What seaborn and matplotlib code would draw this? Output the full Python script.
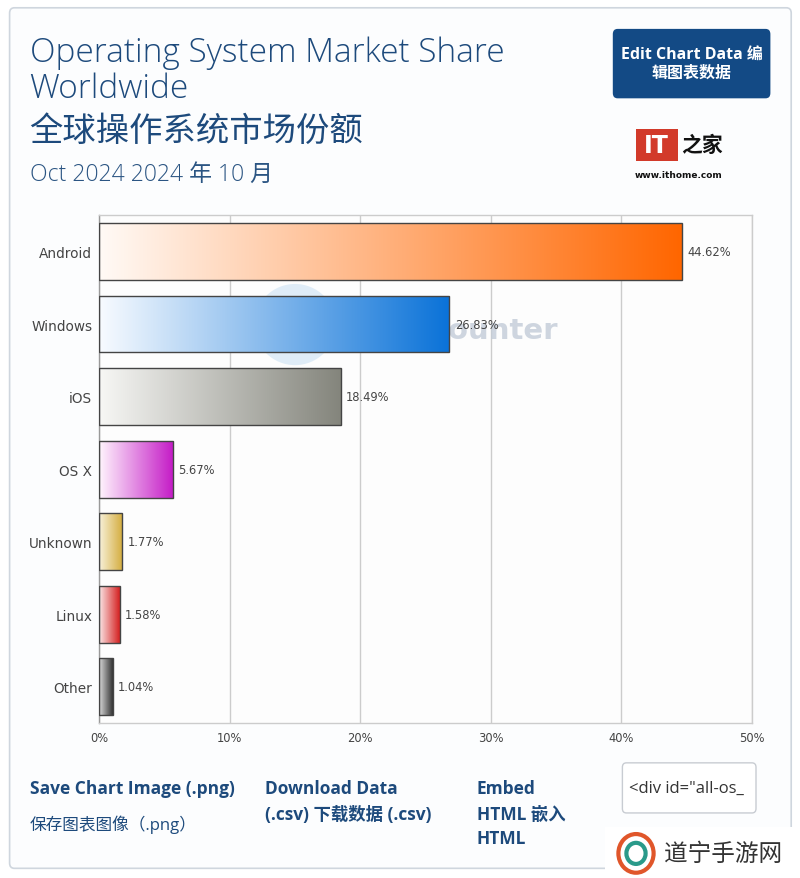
import numpy as np
import pandas as pd
import matplotlib
matplotlib.use("Agg")
import matplotlib.pyplot as plt
import seaborn as sns
from matplotlib.colors import LinearSegmentedColormap
from matplotlib.patches import FancyBboxPatch, Rectangle, Circle, Ellipse

# -----------------------------
# data
# -----------------------------
os_names = ["Android", "Windows", "iOS", "OS X", "Unknown", "Linux", "Other"]
shares = [44.62, 26.83, 18.49, 5.67, 1.77, 1.58, 1.04]
grad_start = ["#fffaf6", "#f8fbff", "#f7f7f5", "#fff5fd", "#f8f2dc", "#fbe8e8", "#dddddd"]
grad_end = ["#ff6600", "#0a72d8", "#84857c", "#c41ac6", "#d4ac3c", "#d42020", "#333333"]
x_ticks = [0, 10, 20, 30, 40, 50]
x_tick_labels = ["0%", "10%", "20%", "30%", "40%", "50%"]

TITLE_EN = "Operating System Market Share\nWorldwide"
TITLE_CN = "全球操作系统市场份额"
SUBTITLE = "Oct 2024 2024 年 10 月"
NAVY = "#1d4a7c"

sns.set_theme(style="white")
plt.rcParams["font.family"] = ["DejaVu Sans", "Noto Sans CJK SC"]
plt.rcParams["axes.unicode_minus"] = False

df = pd.DataFrame({"os": os_names, "share": shares})

fig = plt.figure(figsize=(8, 8.79), dpi=100)
fig.patch.set_facecolor("white")

# outer card (behind everything)
fig.patches.append(FancyBboxPatch((0.012, 0.011), 0.977, 0.979,
                                  boxstyle="round,pad=0,rounding_size=0.006",
                                  transform=fig.transFigure, facecolor="#fcfdfe",
                                  edgecolor="#cfd6de", linewidth=1.2, zorder=-5))

ax = fig.add_axes([0.124, 0.1763, 0.816, 0.5775])
ax.set_zorder(1)
ax.set_facecolor("#fdfdfd")

sns.barplot(data=df, x="share", y="os", orient="h", width=0.78,
            color="white", edgecolor="#444444", linewidth=1.0, ax=ax, zorder=3)

# gradient fill clipped to each bar
for patch, c0, c1 in zip(ax.patches, grad_start, grad_end):
    x0, y0 = patch.get_x(), patch.get_y()
    w, h = patch.get_width(), patch.get_height()
    cmap = LinearSegmentedColormap.from_list("g", [c0, c1])
    grad = np.linspace(0, 1, 256).reshape(1, -1)
    im = ax.imshow(grad, cmap=cmap, aspect="auto", extent=[x0, x0 + w, y0 + h, y0],
                   zorder=2, interpolation="bicubic")
    im.set_clip_path(patch)
    patch.set_facecolor("none")

# value labels
for i, v in enumerate(shares):
    ax.text(v + 0.4, i, f"{v:.2f}%", va="center", ha="left", fontsize=8.3,
            color="#444444", zorder=4)

# faint statcounter watermark behind the bars
ax.add_patch(Ellipse((0.30, 0.785), 0.125, 0.16, transform=ax.transAxes,
                     facecolor="#d3e6f5", edgecolor="none", alpha=0.7, zorder=1))
ax.text(0.556, 0.775, "statcounter", transform=ax.transAxes, ha="center", va="center",
        fontsize=21, fontweight="bold", color="#c3ccd8", alpha=0.8, zorder=1)

ax.set_xlim(0, 50)
ax.set_ylim(6.5, -0.5)
ax.set_xticks(x_ticks)
ax.set_xticklabels(x_tick_labels, fontsize=8.3, color="#444444")
ax.tick_params(axis="y", labelsize=9.8, labelcolor="#444444", length=0, pad=5)
ax.tick_params(axis="x", length=0, pad=6)
ax.set_xlabel("")
ax.set_ylabel("")
ax.grid(axis="x", color="#cccccc", linewidth=1.0, zorder=0)
ax.set_axisbelow(True)
for side in ["top", "right", "bottom"]:
    ax.spines[side].set_color("#cccccc")
ax.spines["left"].set_color("#999999")
for s in ax.spines.values():
    s.set_linewidth(1.0)

# titles
fig.text(0.037, 0.958, TITLE_EN, ha="left", va="top", fontsize=24, color=NAVY,
         family=["Open Sans", "DejaVu Sans"], fontweight="light", linespacing=1.1)
fig.text(0.037, 0.851, TITLE_CN, ha="left", va="center", fontsize=24, color=NAVY,
         family=["Noto Sans CJK SC"], fontweight="medium")
fig.text(0.037, 0.801, SUBTITLE, ha="left", va="center", fontsize=16.5, color="#2b5583",
         family=["Open Sans", "Noto Sans CJK SC"], fontweight="light")

# edit button
fig.patches.append(FancyBboxPatch((0.766, 0.887), 0.197, 0.079,
                                  boxstyle="round,pad=0,rounding_size=0.006",
                                  transform=fig.transFigure, facecolor="#134a85",
                                  edgecolor="none", zorder=2))
fig.text(0.865, 0.927, "Edit Chart Data 编\n辑图表数据", ha="center", va="center",
         fontsize=11.5, color="white", fontweight="bold", linespacing=1.3,
         family=["Open Sans", "Noto Sans CJK SC"], zorder=3)

# ithome logo
fig.patches.append(Rectangle((0.795, 0.816), 0.053, 0.036, transform=fig.transFigure,
                             facecolor="#d23a2a", edgecolor="none", zorder=2))
fig.text(0.821, 0.834, "IT", ha="center", va="center", fontsize=17, color="white",
         fontweight="bold", zorder=3)
fig.text(0.878, 0.834, "之家", ha="center", va="center", fontsize=15, color="#111111",
         family=["Noto Sans CJK SC"], fontweight="bold", zorder=3)
fig.text(0.848, 0.800, "www.ithome.com", ha="center", va="center", fontsize=6.5,
         color="#111111", fontweight="bold")

# footer links
foot = ["Open Sans", "Noto Sans CJK SC"]
fig.text(0.037, 0.102, "Save Chart Image (.png)", fontsize=12.5, color=NAVY,
         fontweight="bold", family=foot, va="center")
fig.text(0.037, 0.062, "保存图表图像（.png）", fontsize=12, color=NAVY,
         family=foot, va="center")
fig.text(0.331, 0.102, "Download Data", fontsize=12.5, color=NAVY,
         fontweight="bold", family=foot, va="center")
fig.text(0.331, 0.073, "(.csv) 下载数据 (.csv)", fontsize=12.5, color=NAVY,
         fontweight="bold", family=foot, va="center")
fig.text(0.596, 0.102, "Embed", fontsize=12.5, color=NAVY, fontweight="bold",
         family=foot, va="center")
fig.text(0.596, 0.073, "HTML 嵌入", fontsize=12.5, color=NAVY, fontweight="bold",
         family=foot, va="center")
fig.text(0.596, 0.045, "HTML", fontsize=12.5, color=NAVY, fontweight="bold",
         family=foot, va="center")
fig.patches.append(FancyBboxPatch((0.778, 0.074), 0.167, 0.057,
                                  boxstyle="round,pad=0,rounding_size=0.005",
                                  transform=fig.transFigure, facecolor="white",
                                  edgecolor="#c8ccd2", linewidth=1.0, zorder=2))
fig.text(0.786, 0.102, '<div id="all-os_', fontsize=12, color="#333333",
         family=["Open Sans", "DejaVu Sans"], va="center", zorder=3)

# site watermark bottom right
fig.patches.append(Rectangle((0.756, 0.0), 0.244, 0.058, transform=fig.transFigure,
                             facecolor="white", edgecolor="none", zorder=4))
fig.patches.append(Circle((0.795, 0.028), 0.022, transform=fig.transFigure,
                          facecolor="none", edgecolor="#e0562a", linewidth=3, zorder=5))
fig.patches.append(Circle((0.795, 0.028), 0.012, transform=fig.transFigure,
                          facecolor="none", edgecolor="#2a9a8a", linewidth=3, zorder=5))
fig.text(0.83, 0.028, "道宁手游网", fontsize=17, color="#333333", va="center",
         family=["Noto Sans CJK SC"], zorder=6)

fig.savefig("out.png", dpi=100)
